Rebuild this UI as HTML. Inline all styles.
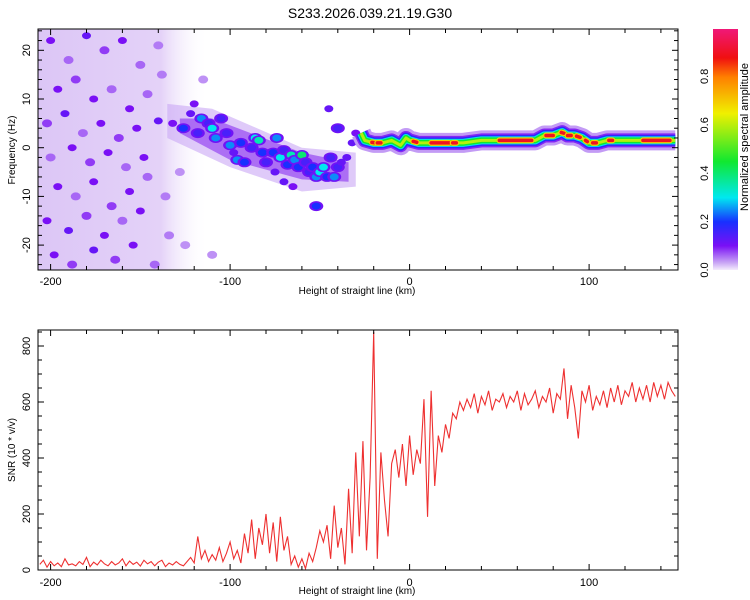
<!DOCTYPE html>
<html><head><meta charset="utf-8">
<style>
html,body{margin:0;padding:0;background:#fff;}
svg{display:block;font-family:"Liberation Sans",sans-serif;}
</style></head>
<body>
<svg id="chart" width="750" height="600" viewBox="0 0 750 600" xmlns="http://www.w3.org/2000/svg">
<defs>
<clipPath id="clipTop"><rect x="38" y="29" width="640" height="241"/></clipPath>
<clipPath id="clipBot"><rect x="38" y="330" width="640" height="240"/></clipPath>
<linearGradient id="cbar" x1="0" y1="1" x2="0" y2="0">
<stop offset="0" stop-color="#f4ecfc"/>
<stop offset="0.03" stop-color="#c9a6f5"/>
<stop offset="0.1" stop-color="#7a10f5"/>
<stop offset="0.2" stop-color="#1830ff"/>
<stop offset="0.3" stop-color="#00e8f0"/>
<stop offset="0.45" stop-color="#10e830"/>
<stop offset="0.65" stop-color="#f0f000"/>
<stop offset="0.8" stop-color="#ff8000"/>
<stop offset="0.88" stop-color="#f01010"/>
<stop offset="1" stop-color="#f01878"/>
</linearGradient>
<linearGradient id="noiseFade" x1="0" y1="0" x2="1" y2="0">
<stop offset="0" stop-color="#dcc6f6"/>
<stop offset="0.72" stop-color="#e4d2f8"/>
<stop offset="1" stop-color="#ffffff" stop-opacity="0"/>
</linearGradient>
</defs>
<text x="370" y="18" font-size="14" text-anchor="middle" fill="#000">S233.2026.039.21.19.G30</text>
<g id="topPanel"></g>
<g id="cb"></g>
<g id="botPanel"></g>
</svg>
<script>
// ---- data ----
const snrStart = -206, snrStep = 2;
const snrValues = [
20,35,10,30,15,25,12,40,18,22,
15,30,20,45,12,28,18,35,22,15,
30,18,25,40,15,32,20,28,14,35,
22,30,15,28,35,12,25,18,30,20,
15,30,45,25,120,40,70,30,55,35,
80,30,60,100,40,70,25,130,60,180,
40,150,90,200,60,170,30,190,70,120,
20,50,10,40,5,60,30,80,140,100,
160,40,230,80,150,20,290,60,420,120,
460,70,330,850,40,420,250,120,380,430,
330,450,300,480,340,430,380,610,190,640,
300,480,420,520,470,560,540,600,570,610,
580,630,560,620,590,640,570,610,600,630,
580,620,600,640,570,630,590,610,640,580,
620,600,650,560,630,610,720,540,660,580,
470,640,600,660,570,620,590,640,580,650,
600,660,590,640,620,670,600,650,610,660,
600,670,620,660,610,670,640,620];
const blobH = [-140,-132,-126,-122,-120,-118,-116,-112,-110,-108,-105,-102,-100,-98,-96,-94,-92,-88,-86,-84,-82,-80,-76,-74,-72,-70,-68,-66,-64,-62,-60,-58,-56,-54,-52,-50,-48,-46,-44,-42,-40,-38,-35,-32,-30,-45,-40,-52,-70,-75,-65,
-200,-190,-180,-170,-160,-150,-140,-196,-186,-176,-166,-156,-146,-202,-192,-182,-172,-162,-152,-200,-188,-178,-168,-158,-148,-196,-186,-176,-166,-156,-146,-202,-190,-180,-170,-160,-150,-198,-188,-176,-164,-154,-142,-136,-134,-138,-128,-125,-110,-115];
const blobF = [5.5,5,4,7,9,3,6,5,4,2,6,3,0.5,-1,-2.5,1,-3,0,2,1.5,-1,-3,-1,2,-2,-0.5,-3.5,-1.5,-2.5,-4,-1.5,-3,-5,-4,-6,-5,-4,-6,-2,-6,-4,-3,-2,1,3,8,4,-12,-7,-5,-8,
22,18,23,20,22,17,21,12,14,10,12,8,11,5,7,3,5,2,4,-2,0,-3,-1,-4,-2,-8,-10,-7,-12,-9,-6,-15,-17,-14,-18,-15,-13,-22,-24,-21,-23,-20,-24,-10,-18,15,-5,-20,-22,14];
const blobA = [0.12,0.1,0.2,0.12,0.1,0.15,0.25,0.15,0.3,0.25,0.15,0.15,0.25,0.12,0.25,0.2,0.2,0.15,0.3,0.35,0.2,0.15,0.2,0.25,0.3,0.15,0.2,0.35,0.25,0.2,0.4,0.15,0.15,0.2,0.25,0.3,0.3,0.2,0.15,0.25,0.15,0.12,0.12,0.12,0.1,0.12,0.15,0.2,0.12,0.12,0.1,
0.1,0.06,0.12,0.08,0.1,0.06,0.05,0.1,0.08,0.1,0.06,0.1,0.06,0.08,0.12,0.06,0.1,0.08,0.1,0.06,0.1,0.08,0.1,0.06,0.1,0.1,0.06,0.1,0.08,0.1,0.06,0.1,0.12,0.08,0.1,0.06,0.1,0.1,0.08,0.12,0.08,0.1,0.06,0.05,0.05,0.05,0.04,0.04,0.04,0.04];
const ridgeH = [-27,-25,-20,-15,-10,-5,-2,0,5,10,20,30,40,50,60,70,75,80,85,88,92,96,100,105,110,120,130,148];
const ridgeF = [3,1.5,1,1,1.5,0.5,2,1.5,1,1,1,1,1.5,1.5,1.5,1.5,2.5,2.5,3.2,2.5,2.5,2,1,1,1.5,1.5,1.5,1.5];
const redStart = [-21,-18,2,12,24,50,76,84.5,88,93,98,102,111,130];
const redEnd   = [-19,-16,4,22,26,68,80,86,90,95,99,104,113,145];
const xTicks = [-200,-100,0,100];
const fTicks = [-20,-10,0,10,20];
const snrTicks = [0,200,400,600,800];
const cbTicks = [0.0,0.2,0.4,0.6,0.8];

// ---- scales ----
const X = h => 409.6 + h*1.795;
const Yf = f => 147.7 - f*4.87;
const Ys = v => 570 - v*0.28;
const Yc = a => 270 - a*242;
const NS = "http://www.w3.org/2000/svg";
function mk(tag, attrs, parent){const e=document.createElementNS(NS,tag);for(const k in attrs)e.setAttribute(k,attrs[k]);parent.appendChild(e);return e;}
const stops=[[0,[244,236,252]],[0.03,[201,166,245]],[0.1,[122,16,245]],[0.2,[24,48,255]],[0.3,[0,232,240]],[0.45,[16,232,48]],[0.65,[240,240,0]],[0.8,[255,128,0]],[0.88,[240,16,16]],[1,[240,24,120]]];
function col(a){for(let i=1;i<stops.length;i++){if(a<=stops[i][0]){const [a0,c0]=stops[i-1],[a1,c1]=stops[i];const t=(a-a0)/(a1-a0);return "rgb("+c0.map((c,j)=>Math.round(c+(c1[j]-c)*t)).join(",")+")";}}return "rgb(240,24,120)";}

// ---- top panel ----
const topG=document.getElementById('topPanel');
const tg=mk('g',{'clip-path':'url(#clipTop)'},topG);
const bg=mk('rect',{x:X(-207),y:29,width:X(-112)-X(-207),height:241,fill:'url(#noiseFade)'},tg);


const halo=mk('polygon',{points:[[-135,9],[-110,8],[-60,0],[-30,-1],[-30,-8],[-60,-9],[-100,-4],[-135,2]].map(p=>X(p[0])+","+Yf(p[1])).join(" "),fill:'#c9a6f5',opacity:0.6},tg);


const halo2=mk('polygon',{points:[[-128,6],[-110,6],[-60,-1],[-34,-3],[-34,-7],[-60,-6.5],[-100,-2.5],[-128,3]].map(p=>X(p[0])+","+Yf(p[1])).join(" "),fill:'#8a30f0',opacity:0.6},tg);


for(let i=0;i<blobH.length;i++){
  const cx=X(blobH[i]), cy=Yf(blobF[i]);
  if(blobA[i]>=0.15){const hh=mk('ellipse',{cx:cx,cy:cy,rx:7,ry:5,fill:col(0.11)},tg);
  
  }
  const b=mk('ellipse',{cx:cx,cy:cy,rx:blobA[i]<0.1?5:4.5,ry:blobA[i]<0.1?4:3.5,fill:col(blobA[i])},tg);
  
  
}
const rpts=ridgeH.map((h,i)=>X(h)+","+Yf(ridgeF[i])).join(" ");
[[20,0.035],[14,0.09],[11,0.18],[8,0.3],[6,0.45],[3,0.6]].forEach(([w,a])=>{
  const p=mk('polyline',{points:rpts,fill:'none',stroke:col(a),'stroke-width':w,'stroke-linejoin':'round','stroke-linecap':'butt'},tg);
  
  
});
function ridgeAt(h){for(let i=1;i<ridgeH.length;i++){if(h<=ridgeH[i]){const t=(h-ridgeH[i-1])/(ridgeH[i]-ridgeH[i-1]);return ridgeF[i-1]+(ridgeF[i]-ridgeF[i-1])*t;}}return ridgeF[ridgeF.length-1];}
for(let i=0;i<redStart.length;i++){
  const y1=Yf(ridgeAt(redStart[i])), y2=Yf(ridgeAt(redEnd[i]));
  const ly=mk('line',{x1:X(redStart[i]),y1:y1,x2:X(redEnd[i]),y2:y2,stroke:col(0.7),'stroke-width':6,'stroke-linecap':'round'},tg);
  
  
  const lr=mk('line',{x1:X(redStart[i]),y1:y1,x2:X(redEnd[i]),y2:y2,stroke:col(0.9),'stroke-width':3.5,'stroke-linecap':'round'},tg);
  
  
}
function frame(parent,y0,y1,name){const r=mk('rect',{x:38,y:y0,width:640,height:y1-y0,fill:'none',stroke:'#000','stroke-width':1},parent);}
frame(topG,29,270,'spectrogram-frame');
function xAxis(parent,y0,y1,labY,titleY){
  for(let h=-200;h<=140;h+=20){const major=h%100===0, L=major?6:4;
    mk('line',{x1:X(h),y1:y1,x2:X(h),y2:y1-L,stroke:'#000'},parent);
    mk('line',{x1:X(h),y1:y0,x2:X(h),y2:y0+L,stroke:'#000'},parent);}
  xTicks.forEach(h=>{const t=mk('text',{x:X(h),y:labY,'font-size':11,'text-anchor':'middle'},parent);t.textContent=h;
    
    });
  const tt=mk('text',{x:357,y:titleY,'font-size':10,'text-anchor':'middle'},parent);tt.textContent='Height of straight line (km)';
  
  
}
xAxis(topG,29,270,285,294);
for(let f=-24;f<=24;f+=2){const L=f%10===0?6:4;mk('line',{x1:38,y1:Yf(f),x2:38+L,y2:Yf(f),stroke:'#000'},topG);mk('line',{x1:678,y1:Yf(f),x2:678-L,y2:Yf(f),stroke:'#000'},topG);}
fTicks.forEach(f=>{const t=mk('text',{x:0,y:0,'font-size':11,'text-anchor':'middle',transform:`translate(30,${Yf(f)}) rotate(-90)`},topG);t.textContent=f;
  
  });
const ft=mk('text',{x:0,y:0,'font-size':10,'text-anchor':'middle',transform:'translate(15,150) rotate(-90)'},topG);ft.textContent='Frequency (Hz)';



// ---- colorbar ----
const cb=document.getElementById('cb');
const cbr=mk('rect',{x:713,y:29,width:25,height:241,fill:'url(#cbar)'},cb);


cbTicks.forEach(a=>{const t=mk('text',{x:0,y:0,'font-size':11,'text-anchor':'middle',transform:`translate(708,${Yc(a)}) rotate(-90)`},cb);t.textContent=a.toFixed(1);
  
  });
const ct=mk('text',{x:0,y:0,'font-size':11,'text-anchor':'middle',transform:'translate(748,137) rotate(-90)'},cb);ct.textContent='Normalized spectral amplitude';



// ---- bottom panel ----
const botG=document.getElementById('botPanel');
const bg2=mk('g',{'clip-path':'url(#clipBot)'},botG);
const pts=snrValues.map((v,i)=>X(snrStart+i*snrStep)+","+Ys(v)).join(" ");
const line=mk('polyline',{points:pts,fill:'none',stroke:'#ee3030','stroke-width':1.1,'stroke-linejoin':'miter'},bg2);


frame(botG,330,570,'snr-frame');
xAxis(botG,330,570,586,594);
for(let v=0;v<=850;v+=50){const L=v%200===0?6:4;mk('line',{x1:38,y1:Ys(v),x2:38+L,y2:Ys(v),stroke:'#000'},botG);mk('line',{x1:678,y1:Ys(v),x2:678-L,y2:Ys(v),stroke:'#000'},botG);}
snrTicks.forEach(v=>{const t=mk('text',{x:0,y:0,'font-size':11,'text-anchor':'middle',transform:`translate(30,${Ys(v)}) rotate(-90)`},botG);t.textContent=v;
  
  });
const st=mk('text',{x:0,y:0,'font-size':10,'text-anchor':'middle',transform:'translate(15,450) rotate(-90)'},botG);st.textContent='SNR (10 * v/v)';


</script>
</body></html>
